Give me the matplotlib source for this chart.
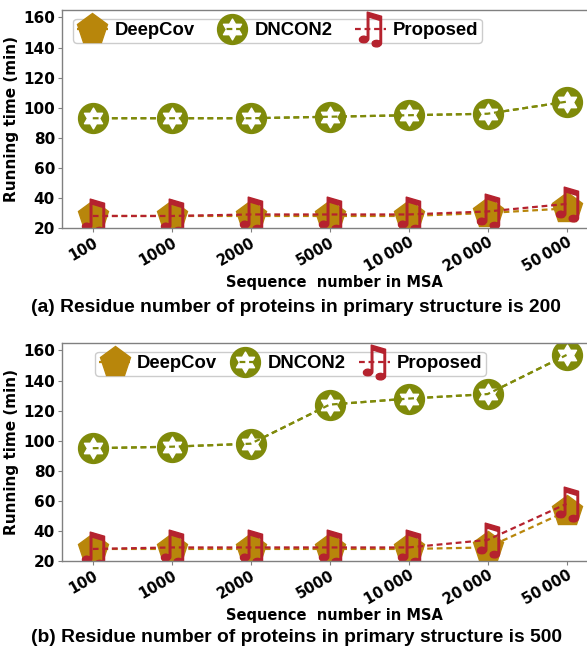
import numpy as np
import matplotlib.pyplot as plt
from matplotlib.path import Path
from matplotlib.legend_handler import HandlerTuple

# x categories (sequence number in MSA)
seq_labels = ["100", "1000", "2000", "5000", "10\u2009000", "20\u2009000", "50\u2009000"]

# (a) residue number 200
deepcov_a = [28, 28, 28, 28, 28, 30, 33]
dncon2_a = [93, 93, 93, 94, 95, 96, 104]
proposed_a = [28, 28, 29, 29, 29, 31, 36]

# (b) residue number 500
deepcov_b = [28, 28, 28, 28, 28, 29, 53]
dncon2_b = [95, 96, 98, 124, 128, 131, 157]
proposed_b = [28, 29, 29, 29, 29, 34, 58]

captions = ["(a) Residue number of proteins in primary structure is 200",
            "(b) Residue number of proteins in primary structure is 500"]

c_deep = "#B8860B"
c_dn = "#7F8A0A"
c_prop = "#B5222E"

# six pointed star (hexagram) marker
ang = np.pi / 2 + np.arange(12) * np.pi / 6
rad = np.where(np.arange(12) % 2 == 0, 1.0, 0.577)
verts = np.column_stack([rad * np.cos(ang), rad * np.sin(ang)])
verts = np.vstack([verts, verts[:1]])
hexagram = Path(verts, closed=True)

fig = plt.figure(figsize=(5.87, 6.52), dpi=100)
ax_a = fig.add_axes([0.1056, 0.6503, 0.9268, 0.3344])
ax_b = fig.add_axes([0.1056, 0.1396, 0.9268, 0.3344])

x = np.arange(len(seq_labels))
lw = 1.6
dash = (2.6, 1.7)

def draw(ax, deep, dn, prop, leg_anchor, colsp):
    # DNCON2: olive circle, white star, line drawn on top
    l_circ, = ax.plot(x, dn, color=c_dn, lw=lw, ls='--', dashes=dash, marker='o', ms=21.5,
                      mec=c_dn, mfc=c_dn)
    l_star, = ax.plot(x, dn, ls='none', marker=hexagram, ms=15, mfc='white', mec='white')
    l_top, = ax.plot(x, dn, color=c_dn, lw=lw, ls='--', dashes=dash)
    # DeepCov
    l_deep, = ax.plot(x, deep, color=c_deep, lw=lw, ls='--', dashes=dash, marker='p', ms=23,
                      mec=c_deep, mfc=c_deep)
    # Proposed
    l_prop, = ax.plot(x, prop, color=c_prop, lw=lw, ls='--', dashes=dash,
                      marker='$\u266B$', ms=25, mec=c_prop, mfc=c_prop)

    ax.set_xlim(-0.39, 6.5)
    ax.set_ylim(20, 165)
    ax.set_yticks([20, 40, 60, 80, 100, 120, 140, 160])
    ax.set_xticks(x)
    ax.set_xticklabels(seq_labels, rotation=30, ha='right', rotation_mode='anchor',
                       fontweight='bold', fontsize=10.5)
    for t in ax.get_yticklabels():
        t.set_fontweight('bold')
        t.set_fontsize(11)
    for s in ['left', 'top', 'bottom', 'right']:
        ax.spines[s].set_color('#808080')
        ax.spines[s].set_linewidth(1.0)
    ax.tick_params(length=3, color='#808080', pad=2)
    ax.set_ylabel("Running time (min)", fontweight='bold', fontsize=11, labelpad=3)
    ax.set_xlabel("Sequence  number in MSA", fontweight='bold', fontsize=10.5, labelpad=0)

    leg = ax.legend([l_deep, (l_circ, l_star, l_top), l_prop], ["DeepCov", "DNCON2", "Proposed"],
                    handler_map={tuple: HandlerTuple(ndivide=1)},
                    loc='upper left', bbox_to_anchor=leg_anchor, ncol=3, handlelength=1.7,
                    handletextpad=0.35, columnspacing=colsp, borderpad=0.2, borderaxespad=0,
                    prop={'family': 'Liberation Sans', 'weight': 'bold', 'size': 13.3},
                    fancybox=True, edgecolor='#cccccc', framealpha=1)
    leg.get_frame().set_linewidth(1.0)

draw(ax_a, deepcov_a, dncon2_a, proposed_a, (0.02, 0.96), 1.2)
draw(ax_b, deepcov_b, dncon2_b, proposed_b, (0.061, 0.96), 0.7)

fig.text(0.505, 1 - 307 / 652, captions[0], ha='center', va='center',
         family='Liberation Sans', fontweight='bold', fontsize=13.9)
fig.text(0.505, 1 - 638 / 652, captions[1], ha='center', va='center',
         family='Liberation Sans', fontweight='bold', fontsize=13.9)

fig.savefig("out.png", dpi=100)
